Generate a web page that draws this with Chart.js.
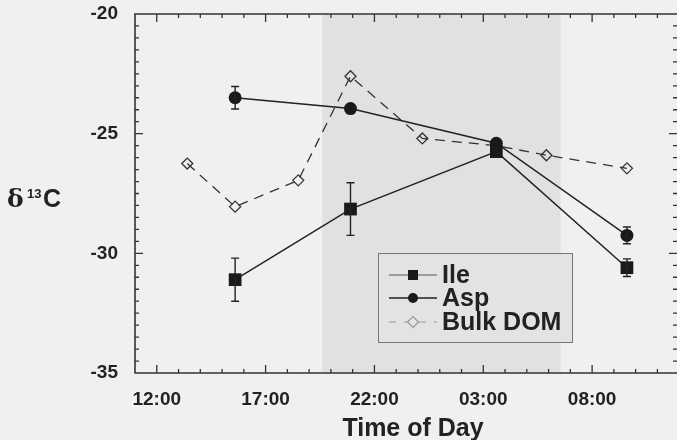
<!DOCTYPE html>
<html>
<head>
<meta charset="utf-8">
<script src="https://cdn.jsdelivr.net/npm/chart.js@4"></script>
<style>
  html, body { margin: 0; padding: 0; background: #f0f0f0; }
  #wrap { width: 677px; height: 440px; }
</style>
</head>
<body>
<div id="wrap"><canvas id="chart" width="677" height="440"></canvas></div>
<script>
// hours of day, counted on from 00:00 of the first day (27 = 03:00 next day)
var ileHours = [15.6, 20.9, 27.6, 33.6];
var ileValues = [-31.1, -28.15, -25.75, -30.6];
var ileErrors = [0.9, 1.1, 0, 0.37];

var aspHours = [15.6, 20.9, 27.6, 33.6];
var aspValues = [-23.5, -23.95, -25.4, -29.25];
var aspErrors = [0.47, 0, 0, 0.35];

var bulkHours = [13.4, 15.6, 18.5, 20.9, 24.2, 27.6, 29.9, 33.6];
var bulkValues = [-26.25, -28.05, -26.95, -22.6, -25.2, -25.5, -25.9, -26.45];

var xTickHours = [12, 17, 22, 27, 32];
var xTickLabels = ['12:00', '17:00', '22:00', '03:00', '08:00'];
var yTickValues = [-35, -30, -25, -20];

// dark period (shaded)
var nightStart = 19.6;
var nightEnd = 30.55;

var FONT = '"Liberation Sans", Arial, Helvetica, sans-serif';
var INK = '#222';

var toPoints = (xs, ys) => xs.map((x, i) => ({ x: x, y: ys[i] }));

var framePlugin = {
  id: 'frame',
  beforeDraw: chart => {
    const ctx = chart.ctx;
    ctx.save();
    ctx.fillStyle = '#f0f0f0';
    ctx.fillRect(0, 0, chart.width, chart.height);
    ctx.restore();
  },
  beforeDatasetsDraw: chart => {
    const ctx = chart.ctx, a = chart.chartArea, xs = chart.scales.x;
    const x0 = xs.getPixelForValue(nightStart), x1 = xs.getPixelForValue(nightEnd);
    ctx.save();
    ctx.fillStyle = '#e1e1e1';
    ctx.fillRect(x0, a.top, x1 - x0, a.bottom - a.top);
    ctx.restore();
  },
  afterDatasetsDraw: chart => {
    const ctx = chart.ctx, a = chart.chartArea;
    const xs = chart.scales.x, ys = chart.scales.y;
    ctx.save();
    // error bars
    ctx.strokeStyle = INK;
    ctx.lineWidth = 1.4;
    chart.data.datasets.forEach((ds, i) => {
      if (!ds.errorBars) return;
      const meta = chart.getDatasetMeta(i);
      ds.data.forEach((p, j) => {
        const e = ds.errorBars[j];
        if (!e) return;
        const px = meta.data[j].x;
        const top = ys.getPixelForValue(p.y + e), bot = ys.getPixelForValue(p.y - e);
        ctx.beginPath();
        ctx.moveTo(px, top); ctx.lineTo(px, bot);
        ctx.moveTo(px - 4, top); ctx.lineTo(px + 4, top);
        ctx.moveTo(px - 4, bot); ctx.lineTo(px + 4, bot);
        ctx.stroke();
      });
    });
    // frame (right side runs off the picture)
    ctx.strokeStyle = '#333';
    ctx.lineWidth = 1.6;
    ctx.beginPath();
    ctx.moveTo(a.right + 2, a.top); ctx.lineTo(a.left, a.top);
    ctx.lineTo(a.left, a.bottom); ctx.lineTo(a.right + 2, a.bottom);
    ctx.stroke();
    // inward ticks
    ctx.lineWidth = 1.3;
    ctx.beginPath();
    for (let h = 12; h <= 35; h++) {
      const px = xs.getPixelForValue(h);
      const len = xTickHours.includes(h) ? 8 : 4;
      ctx.moveTo(px, a.bottom); ctx.lineTo(px, a.bottom - len);
      ctx.moveTo(px, a.top); ctx.lineTo(px, a.top + len);
    }
    for (let v = -34.5; v < -20; v += 0.5) {
      const py = ys.getPixelForValue(v);
      const len = v % 5 === 0 ? 8 : 4;
      ctx.moveTo(a.left, py); ctx.lineTo(a.left + len, py);
      ctx.moveTo(a.right, py); ctx.lineTo(a.right - len, py);
    }
    ctx.stroke();
    ctx.restore();
  },
  afterDraw: chart => {
    const ctx = chart.ctx;
    ctx.save();
    ctx.fillStyle = INK;
    // axis titles
    ctx.textBaseline = 'alphabetic';
    ctx.textAlign = 'center';
    ctx.font = 'bold 25px ' + FONT;
    ctx.fillText('Time of Day', 413, 436);
    ctx.textAlign = 'left';
    ctx.font = 'bold 25px "DejaVu Serif", "Liberation Serif", serif';
    ctx.fillText('δ', 7, 207);
    ctx.font = 'bold 13px ' + FONT;
    ctx.fillText('13', 27, 198);
    ctx.font = 'bold 25px ' + FONT;
    ctx.fillText('C', 43, 207);

    // legend
    const lx = 378, ly = 253, lw = 194, lh = 89;
    ctx.fillStyle = '#e3e3e3';
    ctx.fillRect(lx, ly, lw, lh);
    ctx.strokeStyle = '#777';
    ctx.lineWidth = 1;
    ctx.strokeRect(lx + 0.5, ly + 0.5, lw, lh);
    const rows = [275, 298, 322];
    const names = chart.data.datasets.map(d => d.label);
    rows.forEach((ry, i) => {
      ctx.save();
      ctx.strokeStyle = i === 2 ? '#999' : (i === 0 ? '#555' : '#222');
      ctx.lineWidth = i === 1 ? 1.6 : 1.2;
      if (i === 2) ctx.setLineDash([7, 8]);
      ctx.beginPath();
      ctx.moveTo(389, ry); ctx.lineTo(437, ry);
      ctx.stroke();
      ctx.setLineDash([]);
      if (i === 0) {
        ctx.fillStyle = '#1a1a1a';
        ctx.fillRect(408, ry - 5, 10, 10);
      } else if (i === 1) {
        ctx.fillStyle = '#1a1a1a';
        ctx.beginPath(); ctx.arc(413, ry, 5, 0, Math.PI * 2); ctx.fill();
      } else {
        ctx.fillStyle = '#e3e3e3';
        ctx.strokeStyle = '#999';
        ctx.beginPath();
        ctx.moveTo(413, ry - 5.5); ctx.lineTo(418.5, ry); ctx.lineTo(413, ry + 5.5); ctx.lineTo(407.5, ry);
        ctx.closePath(); ctx.fill(); ctx.stroke();
      }
      ctx.restore();
      ctx.fillStyle = INK;
      ctx.font = 'bold 25px ' + FONT;
      ctx.textBaseline = 'middle';
      ctx.fillText(names[i], 442, ry + 1);
    });
    ctx.restore();
  }
};

new Chart(document.getElementById('chart'), {
  type: 'line',
  data: {
    datasets: [
      {
        label: 'Ile',
        data: toPoints(ileHours, ileValues),
        errorBars: ileErrors,
        borderColor: INK,
        borderWidth: 1.5,
        pointStyle: 'rect',
        pointRadius: 9,
        pointBackgroundColor: '#1a1a1a',
        pointBorderColor: '#1a1a1a',
        pointBorderWidth: 0,
        tension: 0
      },
      {
        label: 'Asp',
        data: toPoints(aspHours, aspValues),
        errorBars: aspErrors,
        borderColor: INK,
        borderWidth: 1.5,
        pointStyle: 'circle',
        pointRadius: 6.5,
        pointBackgroundColor: '#1a1a1a',
        pointBorderColor: '#1a1a1a',
        pointBorderWidth: 0,
        tension: 0
      },
      {
        label: 'Bulk DOM',
        data: toPoints(bulkHours, bulkValues),
        borderColor: '#333',
        borderWidth: 1.3,
        borderDash: [10, 7],
        pointStyle: 'rectRot',
        pointRadius: 5.5,
        pointBackgroundColor: 'rgba(0,0,0,0)',
        pointBorderColor: '#333',
        pointBorderWidth: 1.3,
        tension: 0
      }
    ]
  },
  options: {
    responsive: false,
    animation: false,
    events: [],
    layout: { autoPadding: false, padding: 0 },
    plugins: {
      legend: { display: false },
      tooltip: { enabled: false }
    },
    scales: {
      x: {
        type: 'linear',
        min: 11,
        max: 35.9,
        grid: { display: false, drawTicks: false },
        border: { display: false },
        afterBuildTicks: scale => {
          scale.ticks = xTickHours.map(v => ({ value: v }));
        },
        afterFit: scale => { scale.height = 67; },
        ticks: {
          padding: 15,
          color: INK,
          font: { family: FONT, size: 19, weight: 'bold' },
          maxRotation: 0,
          autoSkip: false,
          callback: (value) => xTickLabels[xTickHours.indexOf(value)]
        }
      },
      y: {
        min: -35,
        max: -20,
        grid: { display: false, drawTicks: false },
        border: { display: false },
        afterBuildTicks: scale => {
          scale.ticks = yTickValues.map(v => ({ value: v }));
        },
        afterFit: scale => {
          scale.width = 135;
          scale.paddingTop = 14;
        },
        ticks: {
          padding: 17,
          color: INK,
          font: { family: FONT, size: 19, weight: 'bold' },
          autoSkip: false
        }
      }
    }
  },
  plugins: [framePlugin]
});
</script>
</body>
</html>
